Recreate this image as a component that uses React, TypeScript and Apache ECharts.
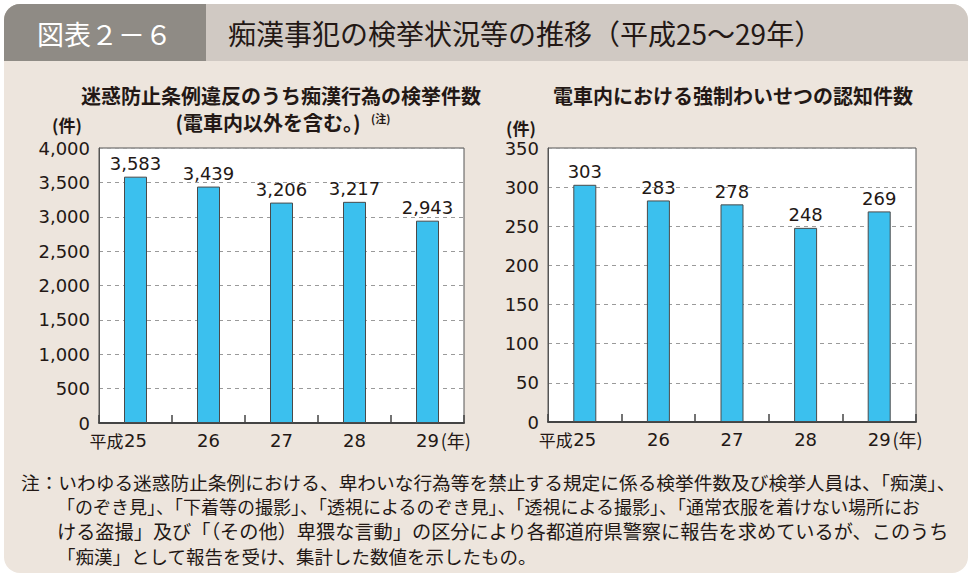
import React, { useEffect, useRef } from "react";
import * as echarts from "echarts";

// ---- data ----
const years = ["25", "26", "27", "28", "29"];
const arrestCounts = [3583, 3439, 3206, 3217, 2943];
const trainAssaultCounts = [303, 283, 278, 248, 269];
const leftAxisRange = { min: 0, max: 4000, interval: 500 };
const rightAxisRange = { min: 0, max: 350, interval: 50 };

const headerLabel = "図表２－６";
const headerTitle = "痴漢事犯の検挙状況等の推移（平成25～29年）";
const leftTitle1 = "迷惑防止条例違反のうち痴漢行為の検挙件数";
const leftTitle2 = "(電車内以外を含む。)";
const leftTitleNote = "(注)";
const rightTitle = "電車内における強制わいせつの認知件数";
const unitLabel = "(件)";
const eraPrefix = "平成";
const yearSuffix = "(年)";
const noteLines = [
  "注：いわゆる迷惑防止条例における、卑わいな行為等を禁止する規定に係る検挙件数及び検挙人員は、「痴漢」、",
  "「のぞき見」、「下着等の撮影」、「透視によるのぞき見」、「透視による撮影」、「通常衣服を着けない場所にお",
  "ける盗撮」及び「（その他）卑猥な言動」の区分により各都道府県警察に報告を求めているが、このうち",
  "「痴漢」として報告を受け、集計した数値を示したもの。",
];

const JP = "'Noto Sans CJK JP', sans-serif";
const NUM = "'DejaVu Sans', 'Noto Sans CJK JP', sans-serif";
const INK = "#231815";

const fmt = (v: number) => v.toLocaleString("en-US");

function xAxisFor(gridIndex: number) {
  const last = years.length - 1;
  return {
    type: "category",
    gridIndex,
    data: years,
    boundaryGap: true,
    axisLine: { show: true, lineStyle: { color: "#444", width: 2 } },
    axisTick: { show: true, inside: true, length: 8, interval: 0, lineStyle: { color: "#444", width: 1.5 } },
    axisLabel: {
      interval: 0,
      margin: 8,
      color: INK,
      fontFamily: NUM,
      fontSize: 18,
      formatter: (v: string, i: number) =>
        i === 0 ? `{pre|${eraPrefix}}{n|${v}}{pad|}` : i === last ? `{padS|}{n|${v}}{suf|${yearSuffix}}` : `{n|${v}}`,
      rich: {
        n: { fontFamily: NUM, fontSize: 18, color: INK },
        pre: { fontFamily: JP, fontSize: 17, color: INK, width: 35 },
        pad: { width: 35 },
        suf: { fontFamily: JP, fontSize: 18, color: INK, width: 32, align: "right" },
        padS: { width: 32 },
      },
    },
  };
}

function yAxisFor(gridIndex: number, range: { min: number; max: number; interval: number }) {
  return {
    type: "value",
    gridIndex,
    min: range.min,
    max: range.max,
    interval: range.interval,
    axisLine: { show: true, lineStyle: { color: "#555", width: 1 } },
    axisTick: { show: false },
    axisLabel: { margin: 9, color: INK, fontFamily: NUM, fontSize: 18, formatter: (v: number) => fmt(v) },
    splitLine: { show: true, lineStyle: { color: "#9a9a9a", width: 1, type: [4, 4] } },
  };
}

function barSeries(idx: number, data: number[]) {
  return {
    type: "bar",
    xAxisIndex: idx,
    yAxisIndex: idx,
    data,
    barWidth: 23,
    itemStyle: { color: "#3BC0EE", borderColor: "#4a4a4a", borderWidth: 1 },
    label: {
      show: true,
      position: "top",
      distance: 4,
      color: INK,
      fontFamily: NUM,
      fontSize: 18,
      formatter: (p: any) => fmt(p.value),
    },
  };
}

const noteSizes = [18.7, 18, 19.2, 18.5];

export default function App() {
  const ref = useRef<HTMLDivElement>(null);
  useEffect(() => {
    if (!ref.current) return;
    const chart = echarts.init(ref.current, null, { renderer: "svg" });
    const graphic: any[] = [
      { type: "rect", z: -10, shape: { x: 4, y: 4, width: 964, height: 569, r: 16 }, style: { fill: "#EDE5DD" } },
      { type: "rect", z: -9, shape: { x: 4, y: 4, width: 964, height: 57, r: [16, 16, 0, 0] }, style: { fill: "#D0C9C3" } },
      { type: "rect", z: -8, shape: { x: 4, y: 4, width: 202, height: 57, r: [16, 0, 0, 0] }, style: { fill: "#8F8B85" } },
      { type: "text", x: 37, y: 33, style: { text: headerLabel, fill: "#fff", font: `27px ${JP}`, verticalAlign: "middle" } },
      { type: "text", x: 228, y: 33, style: { text: headerTitle, fill: INK, font: `28px ${JP}`, verticalAlign: "middle" } },
      { type: "text", x: 281, y: 95, style: { text: leftTitle1, fill: INK, font: `bold 20px ${JP}`, lineHeight: 22, align: "center", verticalAlign: "middle" } },
      { type: "text", x: 268, y: 122, style: { text: leftTitle2, fill: INK, font: `bold 20px ${JP}`, lineHeight: 22, align: "center", verticalAlign: "middle" } },
      { type: "text", x: 371, y: 118, style: { text: leftTitleNote, fill: INK, font: `bold 11px ${JP}`, align: "left", verticalAlign: "middle" } },
      { type: "text", x: 733, y: 95, style: { text: rightTitle, fill: INK, font: `bold 20px ${JP}`, lineHeight: 22, align: "center", verticalAlign: "middle" } },
      { type: "text", x: 67, y: 124, style: { text: unitLabel, fill: INK, font: `bold 17px ${JP}`, align: "center", verticalAlign: "middle" } },
      { type: "text", x: 521, y: 127, style: { text: unitLabel, fill: INK, font: `bold 17px ${JP}`, align: "center", verticalAlign: "middle" } },
      ...noteLines.map((t, i) => ({
        type: "text",
        x: i === 0 ? 21 : 57,
        y: 481 + i * 25,
        style: { text: t, fill: INK, font: `${noteSizes[i]}px ${JP}`, verticalAlign: "middle" },
      })),
    ];
    chart.setOption({
      animation: false,
      grid: [
        { left: 99, top: 148, width: 365, height: 275, show: true, backgroundColor: "#fff", borderColor: "#555", borderWidth: 1 },
        { left: 548, top: 148, width: 368, height: 274, show: true, backgroundColor: "#fff", borderColor: "#555", borderWidth: 1 },
      ],
      xAxis: [xAxisFor(0), xAxisFor(1)],
      yAxis: [yAxisFor(0, leftAxisRange), yAxisFor(1, rightAxisRange)],
      series: [barSeries(0, arrestCounts), barSeries(1, trainAssaultCounts)],
      graphic,
    });
    return () => chart.dispose();
  }, []);
  return <div ref={ref} style={{ position: "absolute", left: 0, top: 0, width: 976, height: 584 }} />;
}
